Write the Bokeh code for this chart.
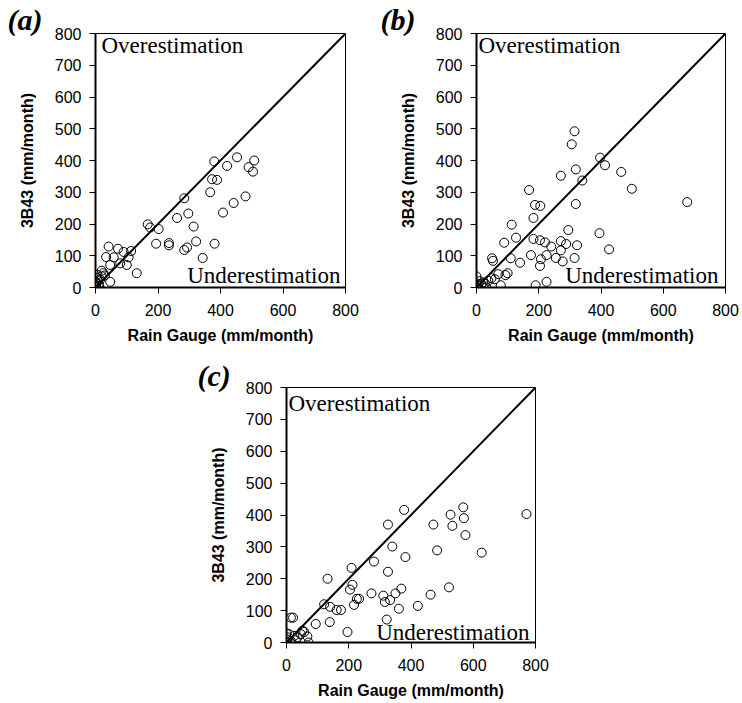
from bokeh.plotting import figure
from bokeh.layouts import column, row
from bokeh.models import Label, FixedTicker, Title
from bokeh.embed import file_html
from bokeh.resources import INLINE

# ---- data (Rain Gauge vs 3B43, mm/month) ----
a_gauge = [380, 453, 508, 421, 490, 504, 373, 389, 367, 284, 480, 442, 408, 297, 261, 167, 175, 202, 314, 194,
           235, 235, 322, 381, 293, 284, 343, 42, 72, 90, 114, 34, 58, 106, 79, 100, 47, 132, 47, 20,
           5, 2, 8, 0, 3, 10, 15, 20, 6, 1, 12, 25, 30]
a_3b43 = [397, 410, 400, 383, 379, 365, 341, 339, 300, 281, 287, 266, 236, 233, 219, 199, 189, 184, 192, 138,
          140, 133, 145, 138, 126, 118, 93, 129, 122, 112, 115, 96, 95, 95, 76, 71, 71, 45, 18, 53,
          30, 15, 20, 5, 0, 10, 25, 35, 40, 8, 5, 45, 38]

b_gauge = [315, 306, 397, 413, 319, 465, 271, 340, 169, 499, 677, 188, 205, 319, 183, 113, 295, 395, 127, 183,
           204, 220, 240, 271, 288, 323, 89, 271, 426, 175, 225, 110, 50, 53, 207, 255, 277, 315, 140, 204,
           100, 93, 70, 59, 48, 78, 190, 225, 38, 27, 0, 0, 5, 16, 21, 32, 10, 3]
b_3b43 = [492, 451, 409, 385, 372, 364, 352, 337, 307, 311, 269, 260, 257, 263, 219, 198, 181, 171, 157, 153,
          149, 142, 129, 146, 137, 133, 141, 117, 120, 102, 102, 92, 92, 84, 89, 93, 82, 93, 78, 68,
          45, 39, 42, 26, 29, 7, 7, 18, 21, 13, 35, 3, 5, 11, 16, 0, 20, 12]

c_gauge = [378, 568, 527, 771, 570, 326, 472, 533, 575, 340, 484, 382, 627, 281, 209, 326, 132, 212, 204, 369,
           273, 311, 350, 522, 463, 226, 233, 316, 333, 217, 121, 140, 161, 175, 361, 422, 322, 139, 94, 196,
           14, 21, 51, 67, 71, 57, 0, 9, 25, 35, 0, 14, 30, 46, 5]
c_3b43 = [416, 424, 401, 403, 390, 370, 370, 366, 337, 301, 289, 268, 282, 254, 234, 222, 200, 181, 166, 169,
          154, 147, 154, 173, 150, 137, 137, 127, 133, 118, 120, 112, 102, 102, 106, 115, 72, 64, 58, 33,
          78, 78, 37, 19, 0, 33, 29, 26, 21, 16, 10, 5, 7, 26, 16]

diag = [0, 800]
x_ticks = [0, 200, 400, 600, 800]
y_ticks = [0, 100, 200, 300, 400, 500, 600, 700, 800]
panel_letters = ["(a)", "(b)", "(c)"]
x_title = "Rain Gauge (mm/month)"
y_title = "3B43 (mm/month)"
over_text = "Overestimation"
under_text = "Underestimation"

SANS = "Liberation Sans"
SERIF = "Liberation Serif"


def make_panel(xs, ys, letter, width, height, ml, mr, mt, mb, letter_dx, letter_sd,
               over_dx, over_dy, under_dx, under_dy):
    fw = width - ml - mr
    fh = height - mt - mb
    sx = 800.0 / fw
    sy = 800.0 / fh
    p = figure(width=width, height=height, x_range=(0, 800), y_range=(0, 800),
               output_backend="svg", toolbar_location=None,
               min_border_left=ml, min_border_right=mr, min_border_top=mt, min_border_bottom=mb)
    p.xgrid.visible = False
    p.ygrid.visible = False
    p.outline_line_color = "black"
    p.outline_line_width = 1
    p.background_fill_color = "white"
    p.border_fill_color = "white"

    p.xaxis.ticker = FixedTicker(ticks=x_ticks)
    p.yaxis.ticker = FixedTicker(ticks=y_ticks)
    for ax in (p.xaxis[0], p.yaxis[0]):
        ax.axis_line_width = 2
        ax.axis_line_color = "black"
        ax.major_tick_in = 0
        ax.major_tick_out = 6
        ax.major_tick_line_color = "black"
        ax.major_tick_line_width = 1
        ax.minor_tick_line_color = None
        ax.major_label_text_font = SANS
        ax.major_label_text_font_size = "16px"
        ax.major_label_text_color = "black"
        ax.axis_label_text_font = SANS
        ax.axis_label_text_font_size = "16px"
        ax.axis_label_text_font_style = "bold"
        ax.axis_label_text_color = "black"
    p.xaxis.axis_label = x_title
    p.yaxis.axis_label = y_title
    p.xaxis.major_label_standoff = 10
    p.yaxis.major_label_standoff = 8
    p.xaxis.axis_label_standoff = 8
    p.yaxis.axis_label_standoff = 16

    p.line(diag, diag, line_color="black", line_width=2)
    p.scatter(xs, ys, marker="circle", size=9, fill_alpha=0, line_color="black", line_width=1)

    p.add_layout(Title(text=letter, align="left", offset=letter_dx, standoff=letter_sd,
                       text_font=SERIF, text_font_style="bold italic", text_font_size="30px",
                       text_color="black"), "above")
    p.add_layout(Label(x=over_dx * sx, y=800 - over_dy * sy, text=over_text,
                       text_font=SERIF, text_font_size="23px", text_color="black",
                       text_baseline="alphabetic", text_align="left"))
    p.add_layout(Label(x=800 - under_dx * sx, y=under_dy * sy, text=under_text,
                       text_font=SERIF, text_font_size="23px", text_color="black",
                       text_baseline="alphabetic", text_align="right"))
    return p


pa = make_panel(a_gauge, a_3b43, panel_letters[0], 370, 350, 95, 25, 33, 63,
                -88, -5, 6, 12, 5, 12)
pb = make_panel(b_gauge, b_3b43, panel_letters[1], 372, 350, 106, 17, 33, 63,
                -96, -5, 2, 12, 7, 12)
pc = make_panel(c_gauge, c_3b43, panel_letters[2], 742, 353, 286, 207, 37, 61,
                -89, -8, 2, 16, 6, 10)

layout = column(row(pa, pb), pc)
open("out.html", "w").write(file_html(layout, INLINE))
